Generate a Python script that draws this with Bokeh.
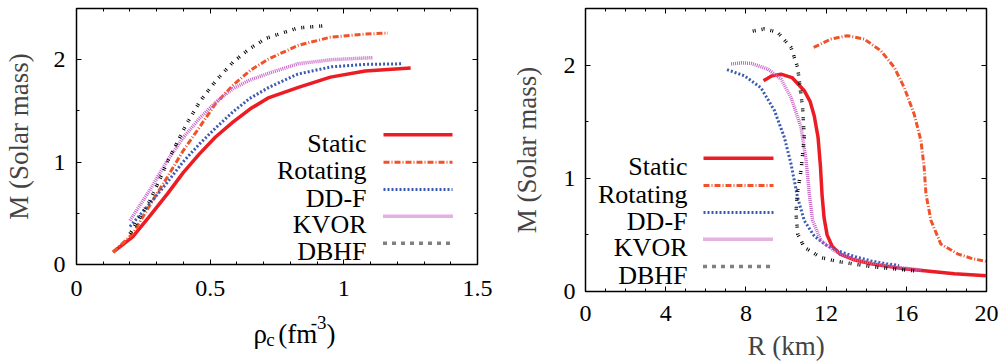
from bokeh.plotting import figure
from bokeh.layouts import row, column
from bokeh.models import Range1d, FixedTicker, LinearAxis, Label, NumeralTickFormatter
from bokeh.embed import file_html
from bokeh.resources import INLINE

FONT = "Liberation Serif"

# ---------------- data: left panel (central density vs mass) ----------------
names = ["Static", "Rotating", "DD-F", "KVOR", "DBHF"]

static_rho = [0.137, 0.21, 0.27, 0.34, 0.40, 0.46, 0.52, 0.585, 0.65, 0.72, 0.83, 0.95, 1.08, 1.25]
static_M_rho = [0.12, 0.27, 0.46, 0.69, 0.90, 1.08, 1.245, 1.39, 1.52, 1.63, 1.73, 1.83, 1.89, 1.92]

rot_rho = [0.137, 0.21, 0.27, 0.34, 0.40, 0.46, 0.52, 0.585, 0.65, 0.72, 0.83, 0.95, 1.08, 1.165]
rot_M_rho = [0.12, 0.30, 0.56, 0.855, 1.115, 1.34, 1.57, 1.75, 1.896, 2.01, 2.14, 2.22, 2.25, 2.26]

ddf_rho = [0.2, 0.274, 0.336, 0.398, 0.461, 0.523, 0.585, 0.647, 0.722, 0.828, 0.953, 1.077, 1.22]
ddf_M_rho = [0.37, 0.595, 0.79, 1.0, 1.18, 1.34, 1.49, 1.62, 1.733, 1.86, 1.93, 1.954, 1.96]

kvor_rho = [0.2, 0.274, 0.336, 0.398, 0.461, 0.523, 0.585, 0.647, 0.722, 0.828, 0.953, 1.108]
kvor_M_rho = [0.43, 0.725, 1.0, 1.235, 1.43, 1.59, 1.717, 1.80, 1.87, 1.96, 2.0, 2.02]

dbhf_rho = [0.2, 0.274, 0.311, 0.336, 0.374, 0.411, 0.461, 0.523, 0.585, 0.647, 0.71, 0.828, 0.921]
dbhf_M_rho = [0.30, 0.62, 0.83, 0.98, 1.18, 1.37, 1.59, 1.80, 1.975, 2.107, 2.21, 2.31, 2.33]

# ---------------- data: right panel (radius vs mass) ----------------
static_R = [8.88, 9.3, 9.75, 10.3, 10.91, 11.2, 11.41, 11.6, 11.72, 11.8, 11.9, 12.05, 12.3, 12.7, 13.4, 14.24, 15.9, 18.4, 20.0]
static_M_R = [1.862, 1.905, 1.92, 1.89, 1.774, 1.68, 1.55, 1.36, 1.1, 0.85, 0.65, 0.5, 0.4, 0.33, 0.28, 0.244, 0.20, 0.157, 0.14]

rot_R = [11.38, 12.24, 13.07, 13.9, 14.73, 15.4, 15.9, 16.39, 16.73, 16.89, 16.98, 17.23, 17.72, 18.55, 19.3, 20.0]
rot_M_R = [2.156, 2.23, 2.26, 2.23, 2.127, 1.98, 1.80, 1.568, 1.333, 1.097, 0.862, 0.627, 0.42, 0.333, 0.29, 0.265]

ddf_R = [7.06, 7.92, 8.75, 9.42, 9.92, 10.25, 10.58, 10.91, 11.41, 12.0, 12.57, 13.4, 14.24, 15.0, 15.64]
ddf_M_R = [1.96, 1.906, 1.80, 1.60, 1.36, 1.127, 0.83, 0.627, 0.49, 0.41, 0.36, 0.31, 0.27, 0.245, 0.23]

kvor_R = [7.26, 7.8, 8.26, 9.08, 9.75, 10.25, 10.75, 11.0, 11.16, 11.33, 11.74, 12.41, 13.3, 14.24, 15.5, 16.73]
kvor_M_R = [2.01, 2.02, 2.015, 1.966, 1.877, 1.715, 1.45, 1.156, 0.862, 0.627, 0.45, 0.36, 0.29, 0.25, 0.215, 0.19]

dbhf_R = [8.34, 8.92, 9.58, 10.25, 10.58, 10.83, 10.91, 10.75, 10.55, 10.5, 10.58, 10.91, 11.74, 12.57, 14.24, 16.56]
dbhf_M_R = [2.30, 2.32, 2.29, 2.156, 1.98, 1.62, 1.36, 1.068, 0.85, 0.69, 0.51, 0.39, 0.30, 0.265, 0.22, 0.18]

# tick values
left_x_major = [0, 0.5, 1, 1.5]
left_x_minor = [i / 10 for i in range(0, 16)]
y_major = [0, 1, 2]
y_minor = [0, 0.5, 1, 1.5, 2, 2.5]
right_x_major = [0, 4, 8, 12, 16, 20]
right_x_minor = list(range(0, 21))

styles = {
    "Static": dict(line_color="#ec1c24", line_width=3.5),
    "Rotating": dict(line_color="#f0522a", line_width=3, line_dash="6 2 1 2"),
    "DD-F": dict(line_color="#3a5ab4", line_width=3, line_dash="2 2"),
    "KVOR": dict(line_color="#c862c8", line_width=3.5, line_dash="1 1"),
    "DBHF": dict(line_color="#000000", line_width=3.5, line_dash="1 1 1 6"),
}


def make_fig(fw, fh, mb, xr, yr, xt, yt, xstand, ystand):
    p = figure(frame_width=fw, frame_height=fh, x_range=Range1d(*xr), y_range=Range1d(*yr),
               output_backend="svg", toolbar_location=None,
               x_axis_location=None, y_axis_location=None)
    p.min_border_left, p.min_border_right, p.min_border_top, p.min_border_bottom = mb
    p.grid.visible = False
    p.outline_line_color = "black"
    p.outline_line_width = 1.5
    p.background_fill_color = "white"
    p.border_fill_color = "white"
    for side in ["below", "left", "above", "right"]:
        major, minor = xt if side in ("below", "above") else yt
        ax = LinearAxis(ticker=FixedTicker(ticks=major, minor_ticks=minor),
                        formatter=NumeralTickFormatter(format="0.[0]"))
        ax.major_tick_in = 5
        ax.major_tick_out = 0
        ax.minor_tick_in = 3
        ax.minor_tick_out = 0
        ax.axis_line_color = "black"
        ax.axis_line_width = 1
        ax.major_tick_line_color = "black"
        ax.minor_tick_line_color = "black"
        ax.major_label_text_font = FONT
        ax.major_label_text_font_size = "24px"
        ax.major_label_text_color = "black"
        ax.major_label_standoff = xstand if side == "below" else ystand
        if side in ("above", "right"):
            ax.major_label_text_color = None
            ax.major_label_text_font_size = "1px"
            ax.major_label_standoff = 0
        p.add_layout(ax, side)
    return p


def mapper(fl, ft, fw, fh, xr, yr):
    def f(sx, sy):
        return (xr[0] + (sx - fl) / fw * (xr[1] - xr[0]),
                yr[1] - (sy - ft) / fh * (yr[1] - yr[0]))
    return f


def add_legend(p, m, text_right, line_x0, line_x1, rows):
    for name, ry in zip(names, rows):
        tx, ty = m(text_right, ry + 8.5)
        p.add_layout(Label(x=tx, y=ty, text=name, text_align="right", text_baseline="alphabetic",
                           text_font=FONT, text_font_size="26px", text_color="black"))
        x0, y0 = m(line_x0, ry)
        x1, _ = m(line_x1, ry)
        p.line([x0, x1], [y0, y0], **styles[name])


TOTAL_H = 363  # the page template has no body margin

# ---------------- left figure ----------------
LX, LY = (0, 1.5), (0, 2.5)
P1_B = 47
p1 = make_fig(401, 256, (72, 27, 8, P1_B), LX, LY,
              (left_x_major, left_x_minor), (y_major, y_minor), 16, 11)
m1 = mapper(72, 8, 401, 256, LX, LY)
left_series = [(static_rho, static_M_rho), (rot_rho, rot_M_rho), (ddf_rho, ddf_M_rho),
               (kvor_rho, kvor_M_rho), (dbhf_rho, dbhf_M_rho)]
for name, (xs, ys) in zip(names, left_series):
    p1.line(xs, ys, **styles[name])
add_legend(p1, m1, 362, 379, 448, [134.3, 161.7, 189, 215.7, 242.7])

p1.left[0].axis_label = "M (Solar mass)"
p1.left[0].axis_label_text_font = FONT
p1.left[0].axis_label_text_font_size = "27px"
p1.left[0].axis_label_text_font_style = "normal"
p1.left[0].axis_label_standoff = 17

# strip under the left plot holding the x-axis title (with sub/superscript)
P1_H = 8 + 256 + P1_B
LAB_H = TOTAL_H - P1_H
LAB_TOP = P1_H  # screen y where the strip starts
lab = figure(width=500, height=LAB_H, x_range=Range1d(0, 500),
             y_range=Range1d(LAB_H, 0), output_backend="svg", toolbar_location=None,
             x_axis_location=None, y_axis_location=None, min_border=0)
lab.outline_line_color = None
lab.grid.visible = False
for txt, sx, sy, fs in [("\u03c1", 223, 333, "27px"), ("c", 239, 339, "19px"), ("(fm", 254, 333, "27px"),
                        ("-3", 295, 322, "19px"), (")", 315, 333, "27px")]:
    lab.add_layout(Label(x=sx, y=sy - LAB_TOP, text=txt, text_align="left", text_baseline="alphabetic",
                         text_font=FONT, text_font_size=fs, text_color="black"))

# ---------------- right figure ----------------
RX, RY = (0, 20), (0, 2.5)
p2 = make_fig(401, 283, (81, 20, 8, TOTAL_H - 291), RX, RY,
              (right_x_major, right_x_minor), (y_major, y_minor), 14, 10)
m2 = mapper(581, 8, 401, 283, RX, RY)
right_series = [(static_R, static_M_R), (rot_R, rot_M_R), (ddf_R, ddf_M_R),
                (kvor_R, kvor_M_R), (dbhf_R, dbhf_M_R)]
for name, (xs, ys) in zip(names, right_series):
    p2.line(xs, ys, **styles[name])
add_legend(p2, m2, 683, 699, 769, [157.7, 185, 212, 238.7, 266])

for ax, text, st in [(p2.left[0], "M (Solar mass)", 19), (p2.below[0], "R (km)", 7)]:
    ax.axis_label = text
    ax.axis_label_text_font = FONT
    ax.axis_label_text_font_size = "27px"
    ax.axis_label_text_font_style = "normal"
    ax.axis_label_standoff = st

layout = row(column(p1, lab), p2)
open("out.html", "w").write(file_html(layout, INLINE))
